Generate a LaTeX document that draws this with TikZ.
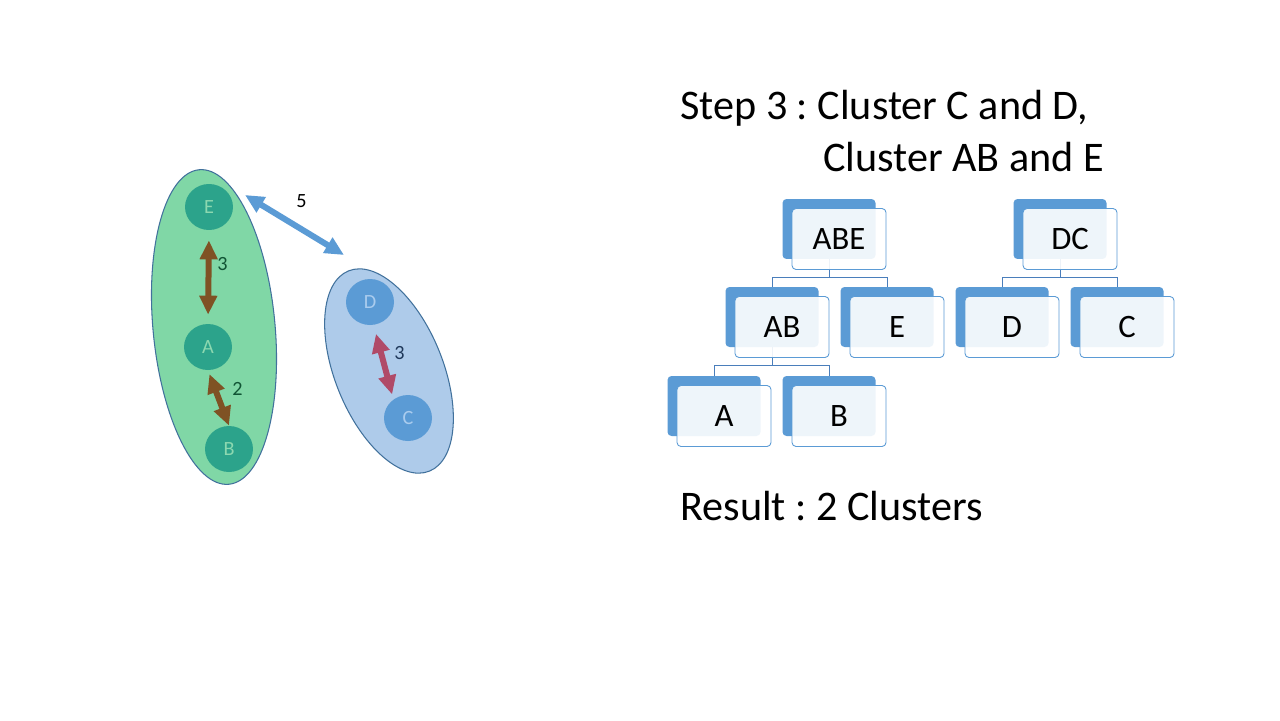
\documentclass[tikz,border=0pt]{standalone}
\usepackage{fontspec}
\setmainfont{Carlito}
\usetikzlibrary{positioning,shapes.geometric,arrows.meta}
\definecolor{clustgreen}{RGB}{128,215,166}
\definecolor{clustblue}{RGB}{174,203,234}
\definecolor{clustline}{RGB}{65,113,156}
\definecolor{nodeteal}{RGB}{44,163,139}
\definecolor{nodetealtxt}{RGB}{140,216,176}
\definecolor{nodeblue}{RGB}{91,155,213}
\definecolor{nodebluetxt}{RGB}{170,204,238}
\definecolor{arrbrown}{RGB}{127,82,36}
\definecolor{arrred}{RGB}{176,74,104}
\definecolor{treeblue}{RGB}{91,155,213}
\definecolor{treeline}{RGB}{74,126,187}
\definecolor{lblgreen}{RGB}{16,84,52}
\definecolor{lblblue}{RGB}{31,56,90}
\frenchspacing

\begin{document}
\begin{tikzpicture}[x=0.02cm,y=-0.02cm,
  every node/.style={align=center},
  clusterell/.style={ellipse,draw=clustline,line width=0.6pt,inner sep=0pt},
  ptnode/.style={ellipse,inner sep=0pt,minimum width=0.96cm,minimum height=0.92cm,font=\fontsize{11.5}{13}\selectfont},
  distarr/.style={line width=0.12cm,{Triangle[length=0.38cm,width=0.34cm]}-{Triangle[length=0.38cm,width=0.34cm]}},
  distlbl/.style={inner sep=0pt,font=\fontsize{11.5}{13}\selectfont},
  backbox/.style={rectangle,rounded corners=0.08cm,fill=treeblue,minimum width=1.86cm,minimum height=1.2cm,inner sep=0pt},
  frontbox/.style={rectangle,rounded corners=0.08cm,draw=treeblue,line width=0.5pt,fill=white,fill opacity=0.9,text opacity=1,
    minimum width=1.88cm,minimum height=1.22cm,inner sep=0pt,font=\fontsize{18.6}{21}\selectfont},
  tline/.style={draw=treeline,line width=0.5pt},
  bigtext/.style={inner sep=0pt,anchor=base west,font=\fontsize{24}{28}\selectfont}]
  % canvas 1280 x 720 px
  \path[use as bounding box,fill=white] (0,0) rectangle (1280,720);

  % --- clusters (left) ---
  \node[clusterell,fill=clustgreen,minimum width=2.44cm,minimum height=6.32cm,rotate=5.4] (cABE) at (214,327) {};
  \node[clusterell,fill=clustblue,minimum width=2.16cm,minimum height=4.32cm,rotate=22] (cDC) at (389,371) {};
  \node[ptnode,fill=nodeteal,text=nodetealtxt] (vE) at (209,207) {E};
  \node[ptnode,fill=nodeteal,text=nodetealtxt] (vA) at (208,347) {A};
  \node[ptnode,fill=nodeteal,text=nodetealtxt] (vB) at (229,449) {B};
  \node[ptnode,fill=nodeblue,text=nodebluetxt] (vD) at (370,302) {D};
  \node[ptnode,fill=nodeblue,text=nodebluetxt] (vC) at (408,418) {C};
  % distances
  \draw[distarr,arrbrown,shorten <=0.2cm,shorten >=0.18cm] (vE.south) -- node[distlbl,text=lblgreen,xshift=0.28cm,yshift=0.25cm] {3} (vA.north);
  \draw[distarr,arrbrown,shorten <=0.08cm] (vA.south) -- node[distlbl,text=lblgreen,xshift=0.38cm,yshift=0.18cm] {2} (vB.north);
  \draw[distarr,arrred,shorten <=0.18cm,shorten >=0.1cm] (vD.-81) -- node[distlbl,text=lblblue,xshift=0.32cm,yshift=0.18cm] {3} (vC.128);
  \coordinate (fromABE) at (245,195);
  \coordinate (toDC) at (344,255);
  \draw[distarr,nodeblue] (fromABE) -- node[distlbl,text=black,xshift=0.14cm,yshift=0.47cm] {5} (toDC);

  % --- step text ---
  \node[bigtext] (step) at (680,119) {Step 3 : Cluster C and D,};
  \node[bigtext] (step2) at (823,171) {Cluster AB and E};
  \node[bigtext] (result) at (680,520) {Result : 2 Clusters};

  % --- dendrogram ---
  \foreach \n/\x/\y in {ABE/829/229,DC/1060/229,AB/772/317,E/887/317,D/1002/317,C/1117/317,A/714/406,B/829/406}
    \node[backbox] (b\n) at (\x,\y) {};
  \draw[tline] (bABE.south) -- ++(0,19);
  \draw[tline] (bAB.north) -- ++(0,-9) -| (bE.north);
  \draw[tline] (bDC.south) -- ++(0,19);
  \draw[tline] (bD.north) -- ++(0,-9) -| (bC.north);
  \draw[tline] (bAB.south) -- ++(0,19);
  \draw[tline] (bA.north) -- ++(0,-10) -| (bB.north);
  \foreach \n in {ABE,DC,AB,E,D,C,A,B}
    \node[frontbox] (f\n) at ([shift={(10,10)}]b\n.center) {\n};
\end{tikzpicture}
\end{document}
